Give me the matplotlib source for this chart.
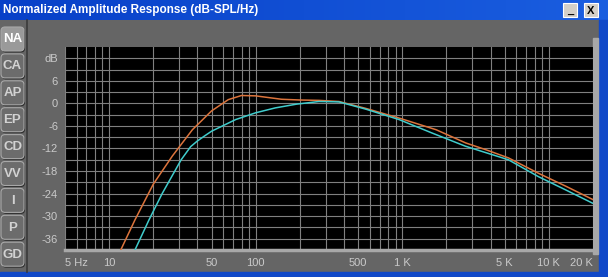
import numpy as np
import matplotlib.pyplot as plt
from matplotlib.patches import Rectangle, FancyBboxPatch
from matplotlib.colors import LinearSegmentedColormap

plt.rcParams['font.family'] = ['Liberation Sans', 'DejaVu Sans']

# curve data (Hz, dB)
freq_orange = [12, 15, 20, 27, 37, 50, 65, 80, 100, 125, 150, 200, 270, 370,
               560, 950, 1700, 2700, 3700, 5300, 8500, 13000, 20000]
db_orange = [-39, -31, -21.5, -14, -7, -2, 1, 2.1, 2.0, 1.5, 1.1, 0.9, 0.8, 0.5,
             -1.3, -3.9, -7.0, -10.5, -12.3, -14.5, -18.6, -22.0, -25.6]

freq_cyan = [15, 18.7, 23, 31, 36, 40, 45, 50, 73, 100, 136, 190, 270, 370,
             560, 950, 1600, 2700, 5300, 8500, 13000, 20000]
db_cyan = [-39, -31, -24, -15, -11.5, -10, -8.6, -7.4, -4.3, -2.5, -1.2, -0.2, 0.5, 0.4,
           -1.5, -4.3, -7.9, -11.4, -15.0, -19.5, -23.0, -26.6]

x_ticks = [5, 10, 50, 100, 500, 1000, 5000, 10000, 20000]
x_labels = ['5 Hz', '10', '50', '100', '500', '1 K', '5 K', '10 K', '20 K']
y_ticks = [12, 6, 0, -6, -12, -18, -24, -30, -36]
y_labels = ['dB', '6', '0', '-6', '-12', '-18', '-24', '-30', '-36']
tabs = ['NA', 'CA', 'AP', 'EP', 'CD', 'VV', 'I', 'P', 'GD']

W, H = 608, 277
fig = plt.figure(figsize=(W / 100, H / 100), dpi=100, facecolor='#656565')

# window chrome drawn in pixel coordinates
chrome = fig.add_axes([0, 0, 1, 1])
chrome.axis('off')
grad = np.linspace(0, 1, 256).reshape(1, -1)
tb_cmap = LinearSegmentedColormap.from_list('tb', ['#0840c8', '#1a5ee0'])
chrome.imshow(grad, extent=(0, W, 20, 0), aspect='auto', cmap=tb_cmap)
chrome.add_patch(Rectangle((599, 20), 9, H - 20, color='#1048c8'))
chrome.add_patch(Rectangle((0, 272), W, 5, color='#1048c8'))
chrome.add_patch(Rectangle((593, 38), 5, 216, color='#a8a8a8'))
chrome.text(3, 10, 'Normalized Amplitude Response (dB-SPL/Hz)', color='white',
            fontsize=8.5, fontweight='bold', va='center', ha='left')
for bx, glyph in [(563, '_'), (584, 'X')]:
    chrome.add_patch(Rectangle((bx, 3), 14, 14, facecolor='#d4d0c8', edgecolor='#ffffff', lw=0.8))
    chrome.text(bx + 7, 10.5, glyph, color='black', fontsize=8, fontweight='bold',
                ha='center', va='center')
chrome.plot([27, 27], [20, 272], color='#3a3a3a', lw=1.2)

for i, t in enumerate(tabs):
    y0 = 27 + i * 26.9
    sel = (t == 'NA')
    chrome.add_patch(FancyBboxPatch((2, y0 + 1.5), 23, 24, boxstyle='round,pad=0,rounding_size=4',
                                    facecolor='#2e2e2e', edgecolor='none'))
    chrome.add_patch(FancyBboxPatch((1, y0), 23, 24, boxstyle='round,pad=0,rounding_size=4',
                                    facecolor='#9a9a9a' if sel else '#6c6c6c',
                                    edgecolor='#a8a8a8', lw=0.8))
    chrome.text(12.5, y0 + 12.5, t, color='white' if sel else '#d2d2d2', fontsize=9.5,
                fontweight='bold', ha='center', va='center')
chrome.set_xlim(0, W)
chrome.set_ylim(H, 0)

# plot area
ax = fig.add_axes([65 / W, 1 - 250 / H, (593 - 65) / W, (250 - 47) / H])
ax.set_facecolor('black')
ax.set_xscale('log')
ax.set_xlim(5, 20000)
ax.set_ylim(-39, 15)
ax.plot(freq_orange, db_orange, color='#dc743c', lw=1.1, zorder=3)
ax.plot(freq_cyan, db_cyan, color='#40cccc', lw=1.1, zorder=4)

ax.set_xticks(x_ticks)
ax.set_xticklabels(x_labels)
ax.set_xticks([m * 10 ** d for d in range(0, 5) for m in range(1, 10)
               if 5 < m * 10 ** d < 20000], minor=True)
ax.set_xticklabels([], minor=True)
ax.set_yticks(y_ticks)
ax.set_yticklabels(y_labels)
ax.set_yticks(np.arange(-36, 15, 3), minor=True)
ax.grid(True, which='both', color='#808080', lw=0.8)
ax.tick_params(which='both', length=0, colors='#cacaca', labelsize=8)
ax.tick_params(axis='x', pad=6)
ax.tick_params(axis='y', pad=5)
labs = ax.get_xticklabels()
labs[0].set_ha('left')
labs[-1].set_ha('right')
for s in ['top', 'left', 'right']:
    ax.spines[s].set_visible(False)
ax.spines['bottom'].set_color('#a8a8a8')
ax.spines['bottom'].set_linewidth(2.5)

fig.savefig('out.png', dpi=100, facecolor=fig.get_facecolor())
